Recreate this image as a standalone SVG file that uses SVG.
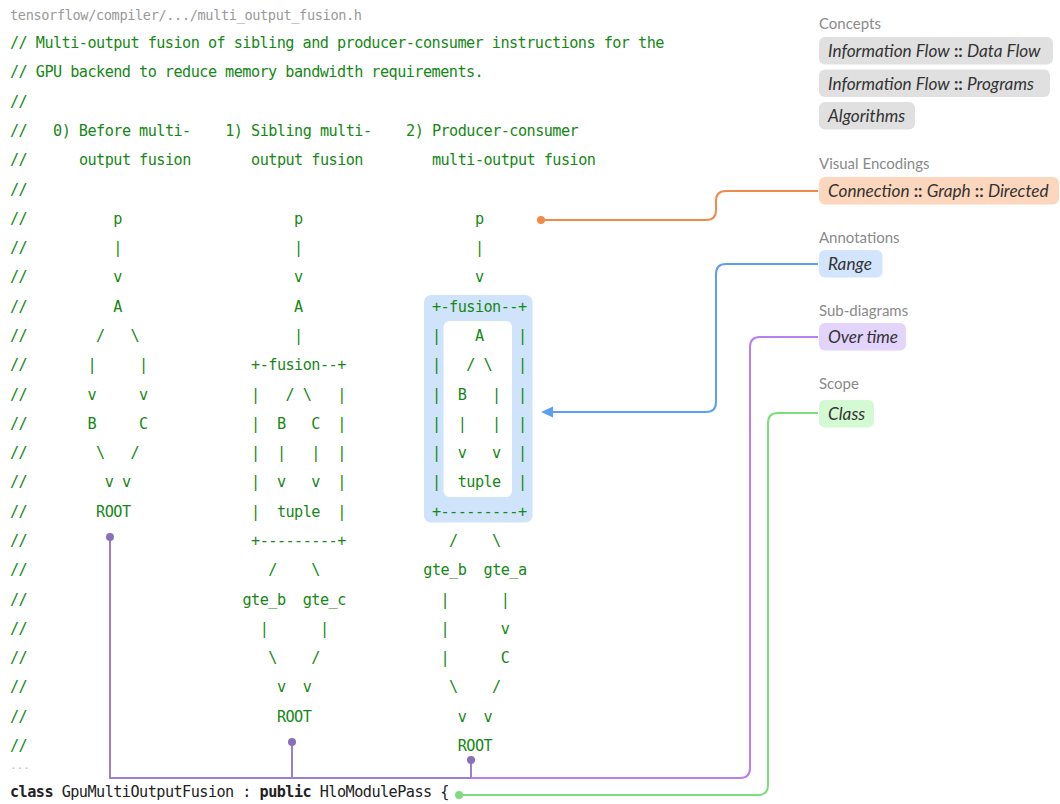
<svg xmlns="http://www.w3.org/2000/svg" width="1060" height="804" viewBox="0 0 1060 804" xml:space="preserve">
<style>
.c{font-family:"DejaVu Sans Mono","Liberation Mono",monospace;font-size:15.2px;letter-spacing:-0.54px;fill:#158815;white-space:pre}
.hdr{font-family:"DejaVu Sans Mono","Liberation Mono",monospace;font-size:13.6px;letter-spacing:-0.37px;fill:#999}
.code{font-family:"DejaVu Sans Mono","Liberation Mono",monospace;font-size:15.2px;letter-spacing:-0.54px;fill:#222;white-space:pre}
.kw{font-weight:bold}
.lbl{font-family:Lato,"Noto Sans",sans-serif;font-size:15px;fill:#8a8a8a}
.chip{font-family:Lato,"Noto Sans",sans-serif;font-size:17.2px;fill:#333;font-style:italic}
.sep{font-style:normal;font-weight:bold}
.conn{fill:none;stroke-width:2}
</style>

<text class="hdr" x="10" y="20">tensorflow/compiler/.../multi_output_fusion.h</text>

<g id="range-highlight">
<rect x="424" y="295" width="108.5" height="227.5" rx="7" fill="#cfe3fb"/>
<rect x="443.5" y="321" width="68.5" height="176" rx="6" fill="#ffffff"/>
</g>

<g id="comment">
<text class="c" x="10" y="48">// Multi-output fusion of sibling and producer-consumer instructions for the</text>
<text class="c" x="10" y="77.3">// GPU backend to reduce memory bandwidth requirements.</text>
<text class="c" x="10" y="106.6">//</text>
<text class="c" y="135.9"><tspan x="10">//</tspan><tspan x="53.05">0) Before multi-</tspan><tspan x="225.25">1) Sibling multi-</tspan><tspan x="406.1">2) Producer-consumer</tspan></text>
<text class="c" y="165.2"><tspan x="10">//</tspan><tspan x="78.9">output fusion</tspan><tspan x="251.1">output fusion</tspan><tspan x="431.9">multi-output fusion</tspan></text>
<text class="c" x="10" y="194.5">//</text>
<text class="c" y="223.7"><tspan x="10">//</tspan><tspan x="113.3">p</tspan><tspan x="294.1">p</tspan><tspan x="474.9">p</tspan></text>
<text class="c" y="253"><tspan x="10">//</tspan><tspan x="113.3">|</tspan><tspan x="294.1">|</tspan><tspan x="474.9">|</tspan></text>
<text class="c" y="282.3"><tspan x="10">//</tspan><tspan x="113.3">v</tspan><tspan x="294.1">v</tspan><tspan x="474.9">v</tspan></text>
<text class="c" y="311.6"><tspan x="10">//</tspan><tspan x="113.3">A</tspan><tspan x="294.1">A</tspan><tspan x="431.9">+-fusion--+</tspan></text>
<text class="c" y="340.9"><tspan x="10">//</tspan><tspan x="96.1">/   \</tspan><tspan x="294.1">|</tspan><tspan x="431.9">|    A    |</tspan></text>
<text class="c" y="370.2"><tspan x="10">//</tspan><tspan x="87.5">|     |</tspan><tspan x="251.1">+-fusion--+</tspan><tspan x="431.9">|   / \   |</tspan></text>
<text class="c" y="399.5"><tspan x="10">//</tspan><tspan x="87.5">v     v</tspan><tspan x="251.1">|   / \   |</tspan><tspan x="431.9">|  B   |  |</tspan></text>
<text class="c" y="428.8"><tspan x="10">//</tspan><tspan x="87.5">B     C</tspan><tspan x="251.1">|  B   C  |</tspan><tspan x="431.9">|  |   |  |</tspan></text>
<text class="c" y="458.1"><tspan x="10">//</tspan><tspan x="96.1">\   /</tspan><tspan x="251.1">|  |   |  |</tspan><tspan x="431.9">|  v   v  |</tspan></text>
<text class="c" y="487.4"><tspan x="10">//</tspan><tspan x="104.7">v v</tspan><tspan x="251.1">|  v   v  |</tspan><tspan x="431.9">|  tuple  |</tspan></text>
<text class="c" y="516.6"><tspan x="10">//</tspan><tspan x="96.1">ROOT</tspan><tspan x="251.1">|  tuple  |</tspan><tspan x="431.9">+---------+</tspan></text>
<text class="c" y="545.9"><tspan x="10">//</tspan><tspan x="251.1">+---------+</tspan><tspan x="449.1">/    \</tspan></text>
<text class="c" y="575.2"><tspan x="10">//</tspan><tspan x="268.3">/    \</tspan><tspan x="423.3">gte_b  gte_a</tspan></text>
<text class="c" y="604.5"><tspan x="10">//</tspan><tspan x="242.5">gte_b  gte_c</tspan><tspan x="440.5">|      |</tspan></text>
<text class="c" y="633.8"><tspan x="10">//</tspan><tspan x="259.7">|      |</tspan><tspan x="440.5">|      v</tspan></text>
<text class="c" y="663.1"><tspan x="10">//</tspan><tspan x="268.3">\    /</tspan><tspan x="440.5">|      C</tspan></text>
<text class="c" y="692.4"><tspan x="10">//</tspan><tspan x="276.9">v  v</tspan><tspan x="449.1">\    /</tspan></text>
<text class="c" y="721.7"><tspan x="10">//</tspan><tspan x="276.9">ROOT</tspan><tspan x="457.7">v  v</tspan></text>
<text class="c" y="751"><tspan x="10">//</tspan><tspan x="457.7">ROOT</tspan></text>
</g>

<text class="hdr" x="10" y="769" style="font-size:11px;letter-spacing:0;fill:#bbb">...</text>
<text class="code" x="10" y="797"><tspan class="kw">class</tspan> GpuMultiOutputFusion : <tspan class="kw">public</tspan> HloModulePass {</text>

<g id="connectors">
<path class="conn" stroke="#f08a4b" d="M541,220 H706 Q716,220 716,210 V201 Q716,191 726,191 H818"/>
<circle cx="541" cy="220" r="4" fill="#f08a4b"/>
<path class="conn" stroke="#5c9ff0" d="M818,264 H726 Q716,264 716,274 V402 Q716,412 706,412 H552"/>
<polygon points="541,412 553,406.5 553,417.5" fill="#5c9ff0"/>
<path class="conn" stroke="#b77ff0" d="M818,337 H760 Q750,337 750,347 V768 Q750,778 740,778 H471"/>
<path class="conn" stroke="#9a80cc" d="M471,778 H110 V537 M292,778 V742 M471,778 V760"/>
<circle cx="110" cy="537" r="4" fill="#8a70bb"/>
<circle cx="292" cy="742" r="4" fill="#8a70bb"/>
<circle cx="471" cy="760" r="4" fill="#8a70bb"/>
<path class="conn" stroke="#7ddc7d" d="M818,413 H778 Q768,413 768,423 V785 Q768,795 758,795 H459"/>
<circle cx="459" cy="795" r="4" fill="#7ddc7d"/>
</g>

<g id="concepts">
<text class="lbl" x="819" y="29">Concepts</text>
<rect x="819" y="37" width="234" height="27.5" rx="6" fill="#e0e0e0"/>
<text class="chip" x="828" y="57">Information Flow<tspan class="sep"> :: </tspan>Data Flow</text>
<rect x="819" y="69.5" width="231" height="27.5" rx="6" fill="#e0e0e0"/>
<text class="chip" x="828" y="89.5">Information Flow<tspan class="sep"> :: </tspan>Programs</text>
<rect x="819" y="102" width="96" height="27.5" rx="6" fill="#e0e0e0"/>
<text class="chip" x="828" y="122">Algorithms</text>
</g>

<g id="visual-encodings">
<text class="lbl" x="819" y="169">Visual Encodings</text>
<rect x="819" y="177" width="240" height="27.5" rx="6" fill="#fdd7bd"/>
<text class="chip" x="828" y="197">Connection<tspan class="sep"> :: </tspan>Graph<tspan class="sep"> :: </tspan>Directed</text>
</g>

<g id="annotations">
<text class="lbl" x="819" y="243">Annotations</text>
<rect x="819" y="250" width="63.5" height="27.5" rx="6" fill="#d2e5fc"/>
<text class="chip" x="828" y="270">Range</text>
</g>

<g id="sub-diagrams">
<text class="lbl" x="819" y="316">Sub-diagrams</text>
<rect x="819" y="323" width="87" height="27.5" rx="6" fill="#e2d4fb"/>
<text class="chip" x="828" y="343">Over time</text>
</g>

<g id="scope">
<text class="lbl" x="819" y="389">Scope</text>
<rect x="819" y="400" width="55" height="27.5" rx="6" fill="#d3fad3"/>
<text class="chip" x="828" y="420">Class</text>
</g>
</svg>
